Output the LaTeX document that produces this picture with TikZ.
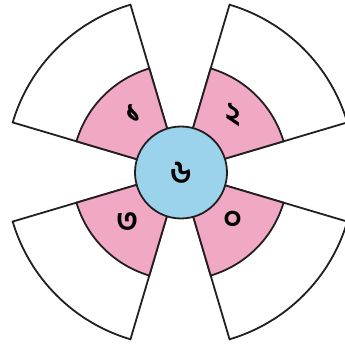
\documentclass[tikz,border=0pt]{standalone}
\usepackage{fontspec}
\newfontfamily\bnfont[Script=Bengali]{Hind Siliguri}
\definecolor{petalpink}{HTML}{F0A8C4}
\definecolor{hubblue}{HTML}{9CD3EC}
\definecolor{edge}{HTML}{231F20}
\begin{document}
\begin{tikzpicture}[x=1pt,y=1pt,
  outline/.style={draw=edge,line width=1.8pt,line join=miter},
  outersec/.style={outline,fill=white},
  innersec/.style={outline,fill=petalpink},
  hub/.style={circle,outline,fill=hubblue,minimum size=92pt,inner sep=0pt},
  digit/.style={font=\bnfont\fontsize{32}{32}\selectfont\bfseries,text=black,inner sep=0pt}]
\useasboundingbox (0,0) rectangle (345,346);
\coordinate (c) at (180,174);
\foreach \a in {45,135,225,315}{
  \draw[outersec] (c) -- ++(\a-28.5:174.5) arc[start angle=\a-28.5,end angle=\a+28.5,radius=174.5] -- cycle;
  \draw[innersec] (c) -- ++(\a-28.5:108) arc[start angle=\a-28.5,end angle=\a+28.5,radius=108] -- cycle;
}
\node[hub] (h) at (181,173.5) {};
\node[digit] (d6) at (h.center) {৬};
\node[digit] (d1) at (134,233) {১};
\node[digit] (d2) at (233,231) {২};
\node[digit] (d3) at (128,124) {৩};
\node[digit] (d0) at (233,126) {০};
\end{tikzpicture}
\end{document}
